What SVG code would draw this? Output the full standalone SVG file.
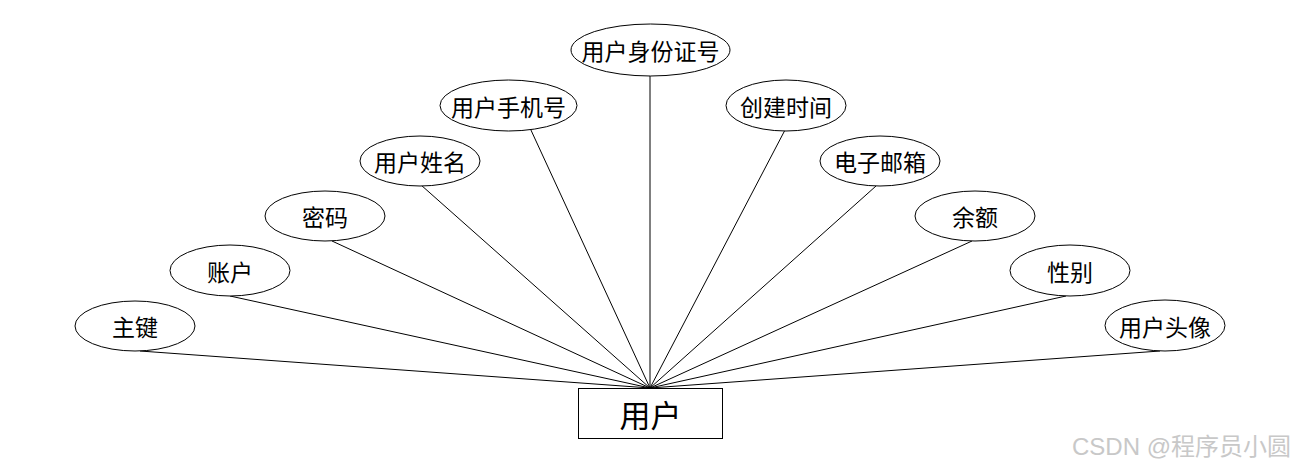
<svg xmlns="http://www.w3.org/2000/svg" width="1300" height="468" viewBox="0 0 1300 468">
<style>
.e{fill:#fff;stroke:#000;stroke-width:1}
.t{font-family:"Noto Sans CJK SC","Liberation Sans",sans-serif;font-size:23px;fill:#000;text-anchor:middle;dominant-baseline:central}
.c line{stroke:#000;stroke-width:1}
</style>
<rect width="1300" height="468" fill="#fff"/>
<g id="connectors" class="c">
<line x1="140" y1="351" x2="650" y2="388"/>
<line x1="230" y1="296" x2="650" y2="388"/>
<line x1="332" y1="241" x2="650" y2="388"/>
<line x1="421" y1="185" x2="650" y2="388"/>
<line x1="530" y1="128" x2="650" y2="388"/>
<line x1="650" y1="76" x2="650" y2="388"/>
<line x1="785" y1="130" x2="650" y2="388"/>
<line x1="876" y1="186" x2="650" y2="388"/>
<line x1="972" y1="241" x2="650" y2="388"/>
<line x1="1066" y1="296" x2="650" y2="388"/>
<line x1="1160" y1="351" x2="650" y2="388"/>
</g>
<g id="n-zhujian"><ellipse class="e" cx="135" cy="326" rx="60" ry="25"/><text class="t" x="135" y="326">主键</text></g>
<g id="n-zhanghu"><ellipse class="e" cx="230" cy="270.5" rx="60" ry="25.5"/><text class="t" x="230" y="270.5">账户</text></g>
<g id="n-mima"><ellipse class="e" cx="325" cy="216" rx="60" ry="25"/><text class="t" x="325" y="216">密码</text></g>
<g id="n-xingming"><ellipse class="e" cx="420" cy="161" rx="60" ry="25"/><text class="t" x="420" y="161">用户姓名</text></g>
<g id="n-shouji"><ellipse class="e" cx="508.5" cy="105.5" rx="68.5" ry="25.5"/><text class="t" x="508.5" y="105.5">用户手机号</text></g>
<g id="n-shenfen"><ellipse class="e" cx="650.5" cy="50" rx="79.5" ry="26"/><text class="t" x="650.5" y="50">用户身份证号</text></g>
<g id="n-chuangjian"><ellipse class="e" cx="786" cy="105.5" rx="60" ry="25.5"/><text class="t" x="786" y="105.5">创建时间</text></g>
<g id="n-youxiang"><ellipse class="e" cx="880" cy="161" rx="60" ry="25"/><text class="t" x="880" y="161">电子邮箱</text></g>
<g id="n-yue"><ellipse class="e" cx="975" cy="216" rx="60" ry="25"/><text class="t" x="975" y="216">余额</text></g>
<g id="n-xingbie"><ellipse class="e" cx="1070" cy="270.5" rx="60" ry="25.5"/><text class="t" x="1070" y="270.5">性别</text></g>
<g id="n-touxiang"><ellipse class="e" cx="1165" cy="325.5" rx="60" ry="25.5"/><text class="t" x="1165" y="325.5">用户头像</text></g>
<g id="n-yonghu"><rect x="578.5" y="388.5" width="144" height="50" fill="#fff" stroke="#000" stroke-width="1"/><text class="t" x="650.5" y="413" style="font-size:31px">用户</text></g>
<text x="1291" y="446" style="font-family:'Liberation Sans','Noto Sans CJK SC',sans-serif;font-size:24px;fill:#c8c8c8;text-anchor:end;dominant-baseline:central">CSDN @程序员小圆</text>
</svg>
